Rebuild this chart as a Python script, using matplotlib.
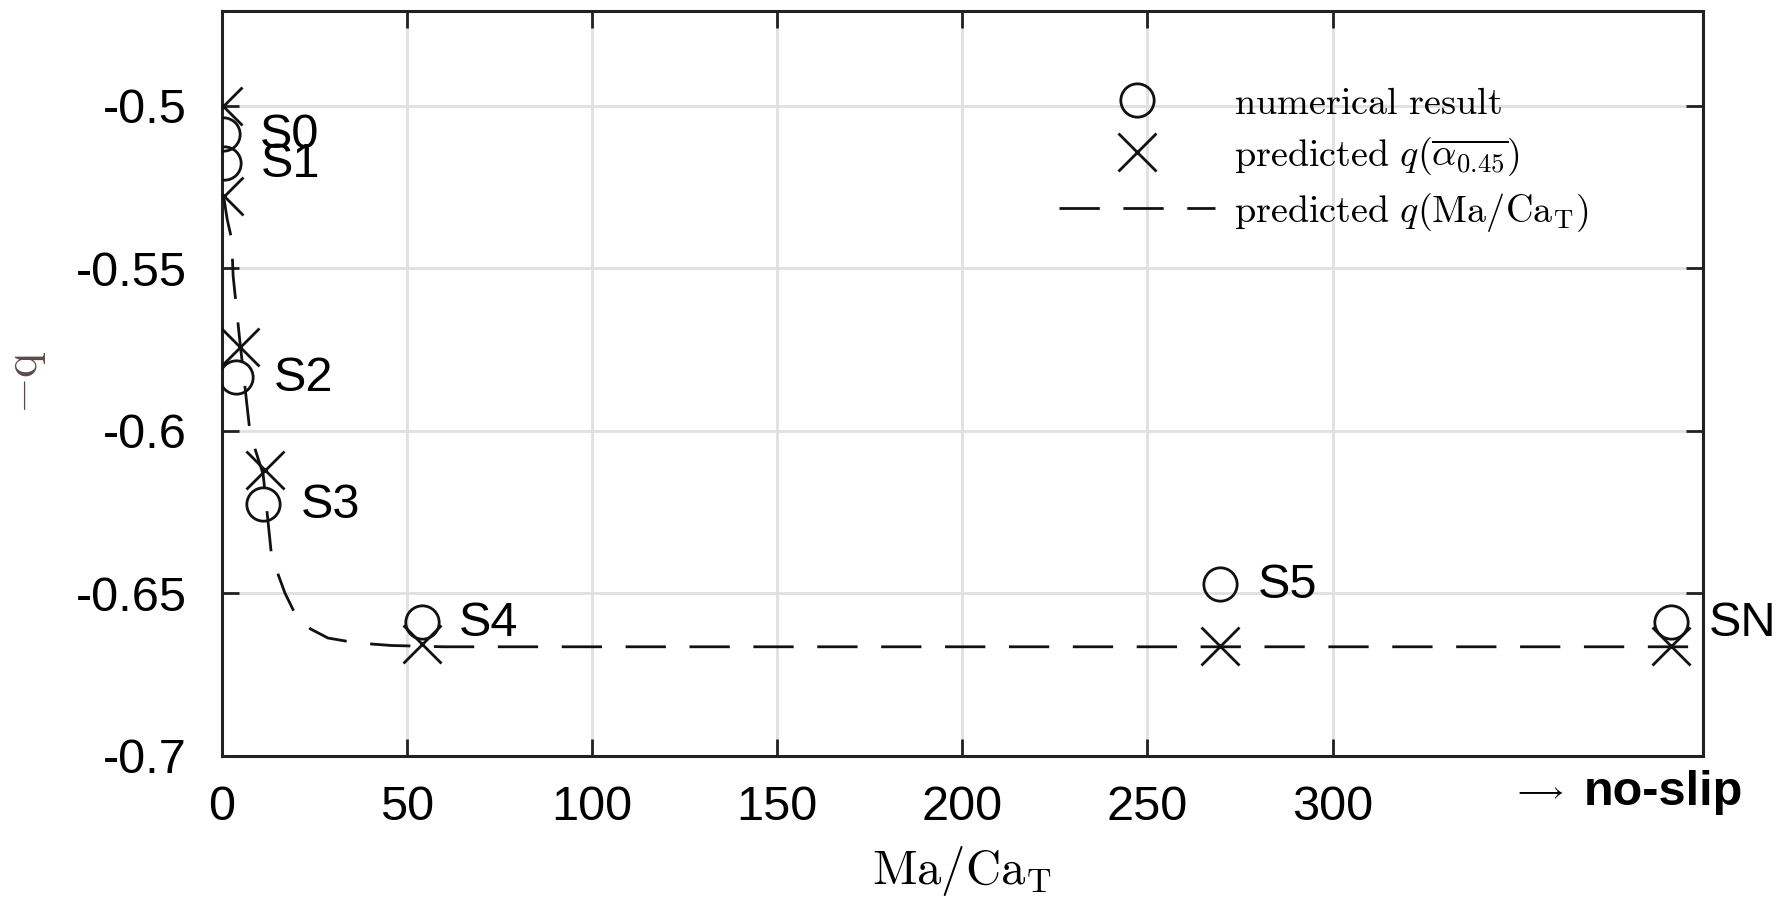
import matplotlib
matplotlib.use("Agg")
import matplotlib.pyplot as plt

# Data

labels = ["S0", "S1", "S2", "S3", "S4", "S5", "SN"]
numerical_x = [0.3, 0.5, 4.0, 11.2, 54.0, 269.6, 391.4]
numerical_q = [-0.5087, -0.5177, -0.5835, -0.6225, -0.6589, -0.6471, -0.6589]

predicted_alpha_x = [0.3, 0.5, 4.9, 11.7, 54.0, 269.6, 391.4]
predicted_alpha_q = [-0.500, -0.5277, -0.5743, -0.6122, -0.6655, -0.6663, -0.6663]

curve_x = [0.5, 1.5, 2.7, 3.1, 4.9, 7.7, 11.2, 13.5, 17.1, 20.2, 24.0, 28.7, 36.4, 45.8, 60.0, 400.0]
curve_q = [-0.5277, -0.535, -0.5411, -0.5524, -0.5723, -0.601, -0.6134, -0.6388, -0.650,
           -0.6572, -0.661, -0.6638, -0.6653, -0.6661, -0.6665, -0.6665]

x_ticks = [0, 50, 100, 150, 200, 250, 300]
y_ticks = [-0.7, -0.65, -0.6, -0.55, -0.5]

# Style

plt.rcParams["font.family"] = ["Liberation Sans", "DejaVu Sans"]
plt.rcParams["mathtext.fontset"] = "cm"
plt.rcParams["axes.unicode_minus"] = False

fig = plt.figure(figsize=(17.89, 8.98), dpi=100)
ax = fig.add_axes([0.1239, 0.1585, 0.828, 0.8288])

ax.plot(curve_x, curve_q, color="#111111", lw=2.0, dashes=(14.5, 8.5),
        label=r"$\mathrm{predicted}\ q(\mathrm{Ma}/\mathrm{Ca}_\mathrm{T})$", zorder=3)
ax.plot(numerical_x, numerical_q, ls="none", marker="o", ms=24, mfc="none",
        mec="#111111", mew=2.0, label=r"$\mathrm{numerical\ result}$", zorder=4)
ax.plot(predicted_alpha_x, predicted_alpha_q, ls="none", marker="x", ms=28,
        mec="#111111", mew=2.0, label=r"$\mathrm{predicted}\ q(\overline{\alpha_{0.45}})$", zorder=4)

# Point labels
for name, x, q in zip(labels, numerical_x, numerical_q):
    ax.annotate(name, (x, q), xytext=(27, -1), textcoords="offset points",
                fontsize=35, va="center", ha="left", annotation_clip=False, zorder=5)

ax.set_xlim(0, 400)
ax.set_ylim(-0.7, -0.471)
ax.set_xticks(x_ticks)
ax.set_yticks(y_ticks)
ax.set_yticklabels(["-0.7", "-0.65", "-0.6", "-0.55", "-0.5"])
ax.tick_params(direction="in", length=12, width=2, labelsize=35,
               top=True, right=True, color="#222222")
ax.tick_params(axis="x", pad=21)
ax.tick_params(axis="y", pad=25)
ax.grid(True, color="#e0e0e0", lw=2)
ax.set_axisbelow(True)
for sp in ax.spines.values():
    sp.set_linewidth(2.2)
    sp.set_color("#222222")

ax.set_xlabel(r"$\mathrm{Ma}/\mathrm{Ca}_\mathrm{T}$", fontsize=35, labelpad=10)
ax.set_ylabel(r"$-\mathrm{q}$", fontsize=34, color="#5c4a48")
ax.yaxis.set_label_coords(-0.117, 0.502)

# "-> no-slip" under the right end of the axis
ax.text(0.871, -0.048, r"$\longrightarrow$", transform=ax.transAxes, fontsize=21,
        va="center", ha="left")
ax.text(0.9195, -0.05, "no-slip", transform=ax.transAxes, fontsize=35,
        fontweight="bold", va="center", ha="left")

handles, texts = ax.get_legend_handles_labels()
order = [1, 2, 0]
ax.legend([handles[i] for i in order], [texts[i] for i in order],
          loc="upper left", bbox_to_anchor=(0.565, 0.9), frameon=False,
          fontsize=27.5, handlelength=4.1, handletextpad=0.5, labelspacing=0.34,
          borderpad=0, borderaxespad=0)

fig.savefig("out.png", dpi=100)
